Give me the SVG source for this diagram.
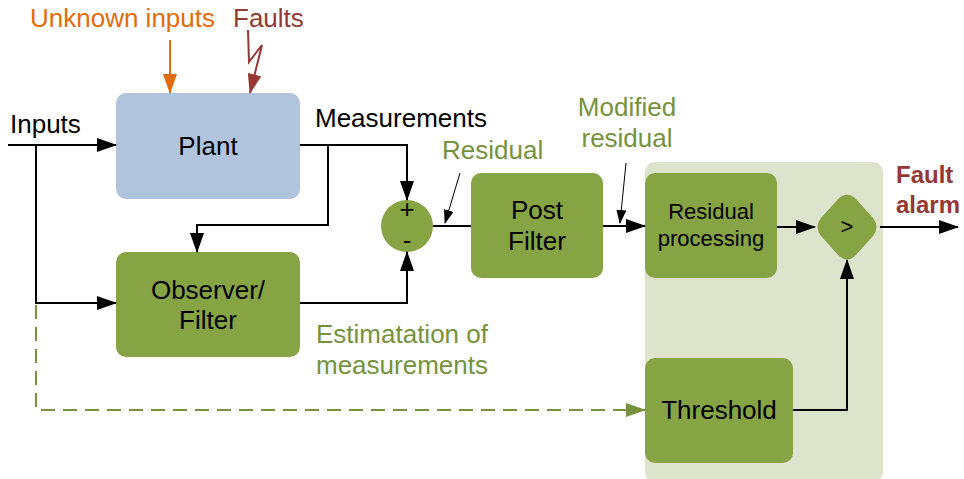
<svg xmlns="http://www.w3.org/2000/svg" width="964" height="479" viewBox="0 0 964 479">
<style>
text{font-family:"Liberation Sans",Arial,sans-serif;font-size:26px;}
.c{text-anchor:middle;}
.blk{fill:#000;}
.grn{fill:#76923c;}
.box{fill:#86a444;}
.ln{fill:none;stroke:#000;stroke-width:2;}
.thin{fill:none;stroke:#000;stroke-width:1;}
.alarm{fill:#953735;font-weight:bold;font-size:24px;}
</style>
<defs>
<marker id="ab" markerUnits="userSpaceOnUse" markerWidth="20" markerHeight="14" refX="19" refY="7" orient="auto"><path d="M0,0 L20,7 L0,14 Z" fill="#000"/></marker>
<marker id="ag" markerUnits="userSpaceOnUse" markerWidth="20" markerHeight="14" refX="19" refY="7" orient="auto"><path d="M0,0 L20,7 L0,14 Z" fill="#76923c"/></marker>
<marker id="ao" markerUnits="userSpaceOnUse" markerWidth="20" markerHeight="14" refX="19" refY="7" orient="auto"><path d="M0,0 L20,7 L0,14 Z" fill="#e36c0a"/></marker>
<marker id="ar" markerUnits="userSpaceOnUse" markerWidth="20" markerHeight="14" refX="19" refY="7" orient="auto"><path d="M0,0 L20,7 L0,14 Z" fill="#953735"/></marker>
<marker id="at" markerUnits="userSpaceOnUse" markerWidth="14" markerHeight="10" refX="13" refY="5" orient="auto"><path d="M0,0 L14,5 L0,10 Z" fill="#000"/></marker>
</defs>

<rect id="panel" x="645" y="162" width="238" height="320" rx="10" fill="#dde4cc"/>

<g id="plant"><rect x="116" y="93" width="184" height="106" rx="10" fill="#b0c4de"/><text class="c blk" x="208" y="155">Plant</text></g>
<g id="observer"><rect class="box" x="116" y="252" width="184" height="105" rx="10"/><text class="c blk" x="208" y="299">Observer/</text><text class="c blk" x="208" y="329">Filter</text></g>
<g id="sum"><circle class="box" cx="407" cy="226" r="26"/><text class="c blk" x="407" y="218">+</text><text class="c blk" x="407" y="249">-</text></g>
<g id="postfilter"><rect class="box" x="471" y="173" width="132" height="105" rx="10"/><text class="c blk" x="537" y="219">Post</text><text class="c blk" x="537" y="250">Filter</text></g>
<g id="residualproc"><rect class="box" x="645" y="173" width="132" height="105" rx="10"/><text class="c blk" x="711" y="219" style="font-size:22px">Residual</text><text class="c blk" x="711" y="246" style="font-size:22px">processing</text></g>
<g id="compare"><path class="box" d="M839,198 Q847,191 855,198 L873,218 Q880,227 873,236 L855,256 Q847,263 839,256 L821,236 Q814,227 821,218 Z"/><text class="c blk" x="847" y="234" style="font-size:22px">&gt;</text></g>
<g id="threshold"><rect class="box" x="645" y="358" width="148" height="105" rx="10"/><text class="c blk" x="719" y="419">Threshold</text></g>

<g id="connectors">
<path class="ln" d="M8,145 H116" marker-end="url(#ab)"/>
<path class="ln" d="M36,145 V303 H116" marker-end="url(#ab)"/>
<path d="M36,305 V410 H645" fill="none" stroke="#76923c" stroke-width="2" stroke-dasharray="14,8" marker-end="url(#ag)"/>
<path class="ln" d="M300,145 H407 V200" marker-end="url(#ab)"/>
<path class="ln" d="M328,145 V225 H197 V252" marker-end="url(#ab)"/>
<path class="ln" d="M300,303 H407 V252" marker-end="url(#ab)"/>
<path class="ln" d="M433,226 H471"/>
<path class="ln" d="M603,226 H645" marker-end="url(#ab)"/>
<path class="ln" d="M777,227 H815" marker-end="url(#ab)"/>
<path class="ln" d="M793,410 H847 V260" marker-end="url(#ab)"/>
<path class="ln" d="M880,227 H958" marker-end="url(#ab)"/>
<path class="thin" d="M460,173 L445,223" marker-end="url(#at)"/>
<path class="thin" d="M626,163 L620,223" marker-end="url(#at)"/>
<path d="M170,40 V93" fill="none" stroke="#e36c0a" stroke-width="2" marker-end="url(#ao)"/>
<path d="M248,30 L249,62 L262,45 L250,93" fill="none" stroke="#953735" stroke-width="2" marker-end="url(#ar)"/>
</g>

<g id="labels">
<text x="30" y="27" fill="#e36c0a">Unknown inputs</text>
<text x="233" y="27" fill="#953735">Faults</text>
<text class="blk" x="10" y="133">Inputs</text>
<text class="blk" x="315" y="127">Measurements</text>
<text class="grn" x="442" y="159">Residual</text>
<text class="c grn" x="627" y="116">Modified</text>
<text class="c grn" x="627" y="147">residual</text>
<text class="grn" x="316" y="343">Estimatation of</text>
<text class="grn" x="316" y="374">measurements</text>
<text class="alarm" x="896" y="183">Fault</text>
<text class="alarm" x="896" y="213">alarm</text>
</g>
</svg>
